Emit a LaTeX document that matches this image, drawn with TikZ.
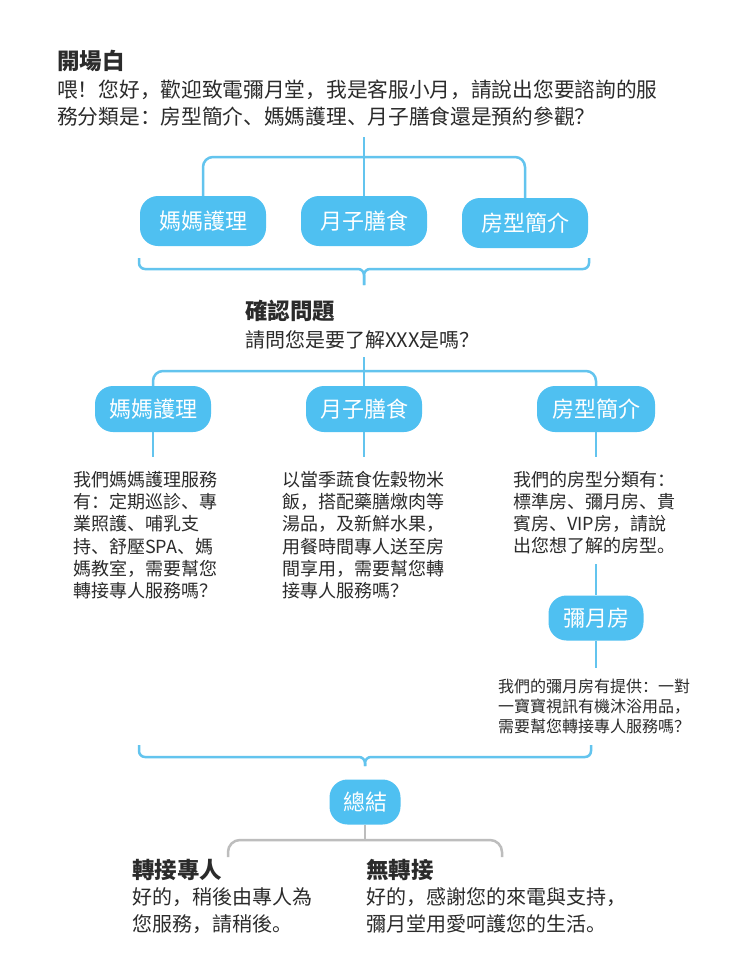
\documentclass[tikz,border=0pt]{standalone}
\usepackage{fontspec}
\setmainfont{Noto Sans CJK SC}
\definecolor{boxblue}{HTML}{4FC0F1}
\definecolor{lineblue}{HTML}{63C4EE}
\definecolor{linegrey}{HTML}{BDBDBD}
\definecolor{txt}{HTML}{2B2B2B}
\newcommand{\ttl}[1]{{\fontsize{22.5}{27.5}\selectfont\bfseries #1}}
\begin{document}
\begin{tikzpicture}[x=1pt,y=-1pt,
  pill/.style={fill=boxblue, text=white, rounded corners=18pt, inner sep=0pt, font=\fontsize{22}{26}\selectfont},
  conn/.style={draw=lineblue, line width=2.5pt},
  gconn/.style={draw=linegrey, line width=2.5pt},
  para/.style={anchor=north west, align=left, inner sep=0pt, text=txt},
]
\useasboundingbox[fill=white] (0,0) rectangle (740,977);

% intro
\node[para, font=\fontsize{20.7}{27.5}\selectfont] (intro) at (57,50)
  {\ttl{開場白}\\喂！您好，歡迎致電彌月堂，我是客服小月，請說出您要諮詢的服\\務分類是：房型簡介、媽媽護理、月子膳食還是預約參觀？};

% row 1
\node[pill, minimum width=126pt, minimum height=50pt] (a1) at (203,221) {媽媽護理};
\node[pill, minimum width=126pt, minimum height=50pt] (a2) at (364,221) {月子膳食};
\node[pill, minimum width=126pt, minimum height=50pt] (a3) at (525,223) {房型簡介};

\coordinate (top1) at (364,137);
\coordinate (bar1) at (364,157);
\draw[conn] (top1) -- (a2.north);
\draw[conn, rounded corners=10pt] (a1.north) |- (bar1) -| (a3.north);

% brace 1
\coordinate (br1) at (364,269);
\coordinate (br1end) at (364,285);
\draw[conn, rounded corners=6pt] (139,258) |- (br1) -- (br1end);
\draw[conn, rounded corners=6pt] (589,258) |- (br1) -- (br1end);

% confirm
\node[para, font=\fontsize{20}{27.5}\selectfont] (conf) at (245,300)
  {\ttl{確認問題}\\請問您是要了解XXX是嗎？};

% row 2
\node[pill, minimum width=116pt, minimum height=46pt] (b1) at (153,409) {媽媽護理};
\node[pill, minimum width=116pt, minimum height=46pt] (b2) at (364,409) {月子膳食};
\node[pill, minimum width=118pt, minimum height=46pt] (b3) at (596,409) {房型簡介};

\coordinate (top2) at (364,357);
\coordinate (bar2) at (364,371);
\draw[conn] (top2) -- (b2.north);
\draw[conn, rounded corners=10pt] (b1.north) |- (bar2) -| (b3.north);

% texts row 2
\node[para, font=\fontsize{18}{22.2}\selectfont] (t1) at (73,471)
  {我們媽媽護理服務\\有：定期巡診、專\\業照護、哺乳支\\持、舒壓SPA、媽\\媽教室，需要幫您\\轉接專人服務嗎？};
\node[para, font=\fontsize{18}{22.2}\selectfont] (t2) at (282,471)
  {以當季蔬食佐穀物米\\飯，搭配藥膳燉肉等\\湯品，及新鮮水果，\\用餐時間專人送至房\\間享用，需要幫您轉\\接專人服務嗎？};
\node[para, font=\fontsize{18}{22.2}\selectfont] (t3) at (513,471)
  {我們的房型分類有：\\標準房、彌月房、貴\\賓房、VIP房，請說\\出您想了解的房型。};

\coordinate (d1) at (153,457);
\coordinate (d2) at (364,457);
\coordinate (d3) at (596,457);
\draw[conn] (b1.south) -- (d1);
\draw[conn] (b2.south) -- (d2);
\draw[conn] (b3.south) -- (d3);

% mi yue fang
\node[pill, minimum width=95pt, minimum height=45pt] (c1) at (596,618) {彌月房};
\coordinate (u3) at (596,564);
\coordinate (d4) at (596,668);
\draw[conn] (u3) -- (c1.north);
\draw[conn] (c1.south) -- (d4);

\node[para, font=\fontsize{16}{19.8}\selectfont] (t4) at (498,679)
  {我們的彌月房有提供：一對\\一寶寶視訊有機沐浴用品，\\需要幫您轉接專人服務嗎？};

% brace 2
\coordinate (br2) at (365,757);
\coordinate (br2end) at (365,766);
\draw[conn, rounded corners=6pt] (139,745) |- (br2) -- (br2end);
\draw[conn, rounded corners=6pt] (591,745) |- (br2) -- (br2end);

% summary
\node[pill, minimum width=71pt, minimum height=45pt] (sum) at (365,802) {總結};
\coordinate (bar3) at (365,840);
\draw[gconn] (sum.south) -- (bar3);
\draw[gconn, rounded corners=12pt] (228,857) |- (bar3) -| (502,857);

% endings
\node[para, font=\fontsize{20}{26.5}\selectfont] (e1) at (132,859)
  {\ttl{轉接專人}\\好的，稍後由專人為\\您服務，請稍後。};
\node[para, font=\fontsize{20}{26.5}\selectfont] (e2) at (366,859)
  {\ttl{無轉接}\\好的，感謝您的來電與支持，\\彌月堂用愛呵護您的生活。};
\end{tikzpicture}
\end{document}
